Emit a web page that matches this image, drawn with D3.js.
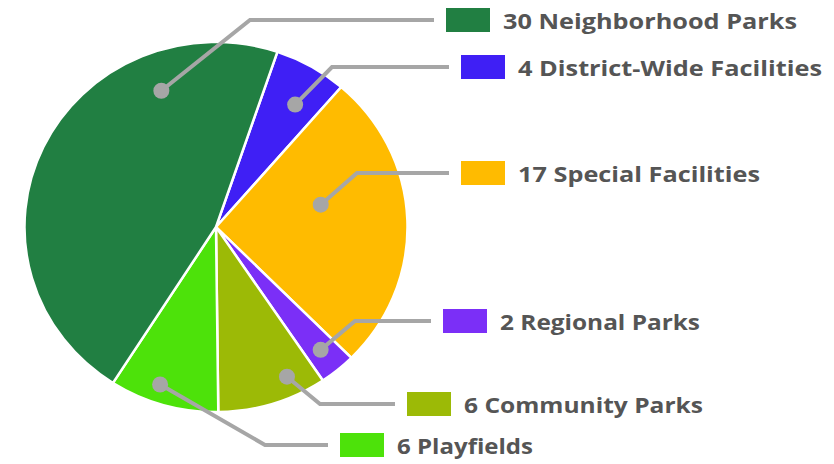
<!DOCTYPE html>
<html>
<head>
<meta charset="utf-8">
<script src="https://cdn.jsdelivr.net/npm/d3@7"></script>
<style>
  body { margin: 0; background: #fff; }
  svg { display: block; }
  .lbl { font-family: "Open Sans", sans-serif; font-weight: 700; fill: #555; }
</style>
</head>
<body>
<div id="chart"></div>
<script>
var svgWidth = 834;
var svgHeight = 464;

// Data (clockwise from the top)
var categories = ["District-Wide Facilities", "Special Facilities", "Regional Parks",
  "Community Parks", "Playfields", "Neighborhood Parks"];
var counts = [4, 17, 2, 6, 6, 30];
var colors = ["#3f1ff5", "#ffbb00", "#7b2ff7", "#9cba06", "#4de20a", "#217f42"];

// Layout of callouts: where the dot sits in the slice, elbow, legend box position
var callouts = [
  { t: 0.6, rf: 0.78, elbow: [332, 68], boxX: 461, boxY: 55, textW: 304 },
  { t: 0.39, rf: 0.56, elbow: [357, 172], boxX: 461, boxY: 161, textW: 242 },
  { t: 0.5, rf: 0.86, elbow: [355, 321], boxX: 443, boxY: 309, textW: 200 },
  { t: 0.28, rf: 0.89, elbow: [320, 404], boxX: 407, boxY: 392, textW: 239 },
  { t: 0.59, rf: 0.9, elbow: [265, 444], boxX: 340, boxY: 433, textW: 136 },
  { t: 0.76, rf: 0.79, elbow: [250, 20], boxX: 446, boxY: 8, textW: 294 }
];

var cx = 216, cy = 227, radius = 191.5, ky = 185 / 191.5;
var startAngle = 18.7 * Math.PI / 180;

var svg = d3.select("#chart")
  .append("svg")
  .attr("width", svgWidth)
  .attr("height", svgHeight);

var pie = d3.pie()
  .sort(null)
  .startAngle(startAngle)
  .endAngle(startAngle + 2 * Math.PI)
  .value(d => d);

var arcs = pie(counts);

var arc = d3.arc()
  .innerRadius(0)
  .outerRadius(radius);

var pieGroup = svg.append("g")
  .attr("transform", `translate(${cx}, ${cy}) scale(1, ${ky})`);

pieGroup.selectAll("path")
  .data(arcs)
  .enter().append("path")
  .attr("d", arc)
  .attr("fill", (d, i) => colors[i])
  .attr("stroke", "#fff")
  .attr("stroke-width", 2.5)
  .attr("stroke-linejoin", "round");

// Callouts
arcs.forEach(function(d, i) {
  var c = callouts[i];
  var a = d.startAngle + (d.endAngle - d.startAngle) * c.t;
  var r = radius * c.rf;
  var px = cx + r * Math.sin(a);
  var py = cy - r * Math.cos(a) * ky;
  var boxH = 24, boxW = 44;
  var midY = c.boxY + boxH / 2;

  svg.append("polyline")
    .attr("points", [[px, py], [c.elbow[0], midY], [c.boxX - 12, midY]].map(p => p.join(",")).join(" "))
    .attr("fill", "none")
    .attr("stroke", "#a6a6a6")
    .attr("stroke-width", 4);

  svg.append("circle")
    .attr("cx", px)
    .attr("cy", py)
    .attr("r", 8)
    .attr("fill", "#a6a6a6");

  svg.append("rect")
    .attr("x", c.boxX)
    .attr("y", c.boxY)
    .attr("width", boxW)
    .attr("height", boxH)
    .attr("fill", colors[i]);

  svg.append("text")
    .attr("class", "lbl")
    .attr("x", c.boxX + 57)
    .attr("y", c.boxY + boxH - 3)
    .attr("font-size", 22)
    .attr("textLength", c.textW)
    .attr("lengthAdjust", "spacingAndGlyphs")
    .text(counts[i] + " " + categories[i]);
});
</script>
</body>
</html>
